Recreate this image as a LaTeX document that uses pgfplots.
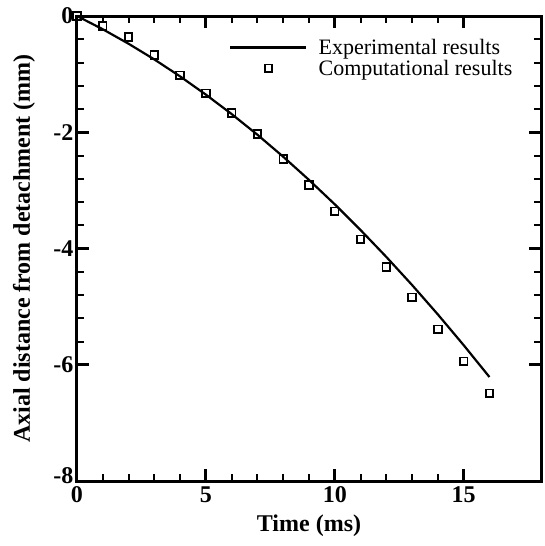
\documentclass[border=0pt]{standalone}
\usepackage{pgfplots}
\pgfplotsset{compat=1.18}
\usepackage{fontspec}
\setmainfont{Liberation Serif}
\begin{document}
\begin{tikzpicture}
\useasboundingbox (-77pt,-65pt) rectangle (467pt,481pt);
\begin{axis}[
  at={(0pt,0pt)}, anchor=south west,
  scale only axis, width=464pt, height=465pt,
  xmin=0, xmax=18, ymin=-8, ymax=0,
  xtick={0,5,10,15}, ytick={-6,-4,-2,0},
  extra y ticks={-8},
  extra y tick style={yticklabel style={yshift=5pt}},
  minor x tick num=4, minor y tick num=4,
  tick align=inside,
  major tick length=12pt, minor tick length=7pt,
  every major tick/.style={line width=2.8pt, black},
  every minor tick/.style={line width=2pt, black},
  axis line style={line width=3pt},
  /pgf/number format/assume math mode=true,
  tick label style={font=\bfseries\fontsize{24}{24}\selectfont},
  xticklabel style={yshift=-2pt},
  label style={font=\bfseries\fontsize{24}{24}\selectfont},
  xlabel={Time (ms)},
  ylabel={Axial distance from detachment (mm)},
  xlabel style={at={(axis description cs:0.5,-0.097)}, anchor=center},
  ylabel style={at={(axis description cs:-0.114,0.5)}, anchor=center},
  legend style={draw=none, fill=none, at={(axis description cs:0.328,0.955)}, anchor=north west,
    font=\fontsize{22}{22}\selectfont, row sep=0pt, inner sep=0pt,
    /tikz/every odd column/.append style={column sep=9pt}},
  legend cell align=left,
  legend image code/.code={\draw[mark repeat=2,mark phase=2,#1] plot coordinates {(0pt,0pt) (38pt,0pt) (76pt,0pt)};},
]
\addplot[black, line width=2.2pt, no markers] coordinates {
(0,0) (1,-0.228) (2,-0.477) (3,-0.747) (4,-1.039) (5,-1.353) (6,-1.687) (7,-2.043)
(8,-2.421) (9,-2.820) (10,-3.240) (11,-3.682) (12,-4.145) (13,-4.629) (14,-5.135)
(15,-5.663) (16,-6.211)};
\addlegendentry{Experimental results}
\addplot[black, only marks, mark=square, mark size=3.8pt, line width=1.8pt] coordinates {
(0,0) (1,-0.17) (2,-0.36) (3,-0.67) (4,-1.02) (5,-1.33) (6,-1.67) (7,-2.03)
(8,-2.46) (9,-2.91) (10,-3.36) (11,-3.84) (12,-4.32) (13,-4.84) (14,-5.39)
(15,-5.94) (16,-6.49)};
\addlegendentry{Computational results}
\end{axis}
\end{tikzpicture}
\end{document}
